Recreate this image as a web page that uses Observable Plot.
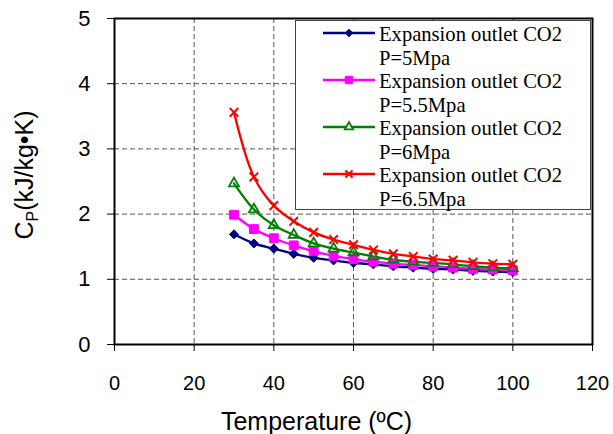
<!DOCTYPE html>
<html><head><meta charset="utf-8">
<script src="https://cdn.jsdelivr.net/npm/d3@7"></script>
<script src="https://cdn.jsdelivr.net/npm/@observablehq/plot@0.6"></script>
<style>
body{margin:0;background:#fff;}
#wrap{width:613px;height:434px;}
</style></head><body><div id="wrap"></div>
<script>
// ---- data ----
const temps = [30,35,40,45,50,55,60,65,70,75,80,85,90,95,100];
const cp5  = [1.69,1.55,1.47,1.39,1.33,1.29,1.25,1.23,1.20,1.18,1.16,1.15,1.13,1.12,1.11];
const cp55 = [1.99,1.77,1.63,1.52,1.43,1.36,1.31,1.27,1.24,1.22,1.20,1.18,1.16,1.15,1.14];
const cp6  = [2.47,2.07,1.83,1.68,1.55,1.47,1.41,1.35,1.30,1.27,1.25,1.23,1.20,1.18,1.17];
const cp65 = [3.56,2.57,2.13,1.89,1.72,1.61,1.53,1.45,1.39,1.35,1.31,1.29,1.26,1.24,1.23];
const seriesNames = ["Expansion outlet CO2\nP=5Mpa","Expansion outlet CO2\nP=5.5Mpa","Expansion outlet CO2\nP=6Mpa","Expansion outlet CO2\nP=6.5Mpa"];
const seriesValues = [cp5, cp55, cp6, cp65];
const seriesColors = ["#000080","#FF00FF","#008000","#FF0000"];
const seriesSymbols = ["diamond2","square","triangle2","times"];
const xTicks = [0,20,40,60,80,100,120];
const yTicks = [0,1,2,3,4,5];
const xTitle = "Temperature (ºC)";

// symbol styles
const symStyle = [
  {fillOn:true, r:4.1, sw:1},
  {fillOn:true, r:5.0, sw:1},
  {fillOn:false, r:4.8, sw:1.8},
  {fillOn:false, r:4.0, sw:2}
];

const rows = [];
seriesValues.forEach((vals, s) => vals.forEach((v, i) => rows.push({s, t: temps[i], cp: v})));

const marks = [
  Plot.gridX(xTicks, {stroke:"#555", strokeOpacity:1, strokeDasharray:"5,3"}),
  Plot.gridY(yTicks, {stroke:"#555", strokeOpacity:1, strokeDasharray:"5,3"}),
  Plot.axisX({ticks:xTicks, tickSize:7, tickPadding:24, fontSize:20, label:null, stroke:"#000", tickFormat:d=>String(d)}),
  Plot.axisY({ticks:yTicks, tickSize:7, tickPadding:17, fontSize:22, label:null, stroke:"#000", tickFormat:d=>String(d)}),
];
seriesValues.forEach((vals, s) => {
  const d = rows.filter(r => r.s === s);
  marks.push(Plot.line(d, {x:"t", y:"cp", stroke:seriesColors[s], strokeWidth:2.3, curve:"catmull-rom"}));
});
seriesValues.forEach((vals, s) => {
  const d = rows.filter(r => r.s === s);
  const st = symStyle[s];
  marks.push(Plot.dot(d, {x:"t", y:"cp", symbol:seriesSymbols[s], r:st.r,
    fill: st.fillOn ? seriesColors[s] : "none", stroke: seriesColors[s], strokeWidth: st.sw}));
});
marks.push(Plot.frame({stroke:"#000", strokeWidth:2}));
marks.push(Plot.text([xTitle], {frameAnchor:"bottom", dx:-37, dy:77, fontSize:25, lineAnchor:"middle", fill:"#000"}));

const chart = Plot.plot({
  width:613, height:434,
  marginLeft:114, marginRight:21, marginTop:18, marginBottom:90,
  style:{fontFamily:"'Liberation Sans', Arial, sans-serif", background:"#fff", color:"#000", overflow:"visible"},
  x:{domain:[0,120], label:null},
  y:{domain:[0,5], label:null},
  marks
});
document.getElementById("wrap").appendChild(chart);

// y-axis title with subscript
const svg = d3.select(chart);
const yt = svg.append("text")
  .attr("transform","translate(33,175) rotate(-90)")
  .attr("text-anchor","middle")
  .attr("font-family","'Liberation Sans', Arial, sans-serif")
  .attr("font-size",25).attr("fill","#000");
yt.append("tspan").text("C");
yt.append("tspan").attr("font-size",16).attr("dy",5).text("P");
yt.append("tspan").attr("dy",-5).text("(kJ/kg•K)");

// legend
const lg = svg.append("g").attr("text-anchor","start");
lg.append("rect").attr("x",295.5).attr("y",20.5).attr("width",295).attr("height",189)
  .attr("fill","#fff").attr("stroke","#444").attr("stroke-width",1);
const symMap = {diamond2:d3.symbolDiamond2, square:d3.symbolSquare, triangle2:d3.symbolTriangle2, times:d3.symbolTimes};
seriesNames.forEach((name, s) => {
  const y0 = 33 + 47*s;
  const st = symStyle[s];
  lg.append("line").attr("x1",323).attr("x2",375).attr("y1",y0).attr("y2",y0)
    .attr("stroke",seriesColors[s]).attr("stroke-width",2.6);
  lg.append("path").attr("transform",`translate(349,${y0})`)
    .attr("d", d3.symbol(symMap[seriesSymbols[s]], Math.PI*st.r*st.r*0.7)())
    .attr("fill", st.fillOn ? seriesColors[s] : "#fff").attr("stroke",seriesColors[s]).attr("stroke-width",st.sw);
  const lines = name.split("\n");
  lines.forEach((ln, k) => {
    lg.append("text").attr("x",379).attr("y", y0 + 8 + 24*k).attr("text-anchor","start")
      .attr("font-family","'Liberation Serif','Times New Roman',serif").attr("font-size",20.6).attr("fill","#000")
      .text(ln);
  });
});
</script></body></html>
